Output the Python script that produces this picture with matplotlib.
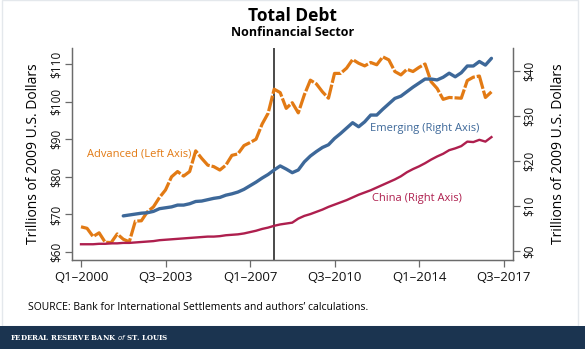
import matplotlib
matplotlib.use("Agg")
import matplotlib.pyplot as plt
from matplotlib.patches import Rectangle

plt.rcParams['font.family'] = ['Open Sans', 'DejaVu Sans']

# quarters since Q1-2000
quarters = list(range(69))
tick_pos = [0, 14, 28, 42, 56, 70]
tick_labels = ['Q1\u20132000', 'Q3\u20132003', 'Q1\u20132007', 'Q3\u20132010', 'Q1\u20132014', 'Q3\u20132017']

# Advanced economies, left axis (trillions of 2009 US$)
advanced = [66.7, 66.3, 64.1, 65.1, 62.6, 62.5, 64.8, 63.4, 62.7, 68.2,
            68.3, 70.7, 72.0, 74.5, 76.5, 80.0, 81.4, 80.2, 81.4, 86.9,
            84.9, 83.1, 82.7, 81.8, 83.1, 85.7, 86.1, 88.3, 89.1, 90.0,
            94.0, 96.9, 103.3, 102.4, 98.2, 99.7, 97.0, 101.8, 105.7, 104.7,
            102.6, 100.9, 107.5, 107.5, 108.9, 111.2, 110.2, 109.5, 110.4, 109.8,
            111.9, 111.1, 108.0, 107.1, 108.6, 108.0, 109.1, 110.0, 105.3, 103.5,
            100.6, 101.1, 101.0, 100.9, 105.6, 106.5, 106.8, 101.1, 102.6]

# Emerging economies, right axis (starts Q4-2001)
emerging_q = list(range(7, 69))
emerging = [7.8, 8.0, 8.2, 8.4, 8.5, 8.8, 9.4, 9.6, 9.8, 10.2,
            10.2, 10.5, 11.0, 11.1, 11.4, 11.7, 11.9, 12.4, 12.7, 13.1,
            13.7, 14.5, 15.3, 16.2, 17.0, 18.0, 18.9, 18.2, 17.4, 18.0,
            19.8, 21.1, 22.1, 23.0, 23.6, 25.0, 26.1, 27.3, 28.5, 27.6,
            28.7, 30.2, 30.2, 31.5, 32.7, 33.9, 34.4, 35.4, 36.4, 37.3,
            38.2, 38.2, 38.0, 38.6, 39.5, 38.7, 39.6, 41.1, 41.1, 42.1,
            41.3, 42.8]

# China, right axis
china = [1.5, 1.5, 1.5, 1.6, 1.6, 1.7, 1.7, 1.8, 1.8, 1.9,
         2.0, 2.1, 2.2, 2.4, 2.5, 2.6, 2.7, 2.8, 2.9, 3.0,
         3.1, 3.2, 3.2, 3.3, 3.5, 3.6, 3.7, 3.9, 4.2, 4.5,
         4.9, 5.2, 5.6, 5.9, 6.1, 6.3, 7.2, 7.8, 8.2, 8.7,
         9.2, 9.8, 10.3, 10.8, 11.3, 11.9, 12.5, 13.0, 13.5, 14.1,
         14.7, 15.3, 15.9, 16.6, 17.5, 18.2, 18.8, 19.5, 20.3, 21.0,
         21.6, 22.4, 22.8, 23.3, 24.3, 24.2, 24.7, 24.3, 25.3]

crisis_q = 32
left_ticks = [60, 70, 80, 90, 100, 110]
right_ticks = [0, 10, 20, 30, 40]

c_adv = '#E27A14'
c_emg = '#3D6899'
c_chn = '#AE1F4E'
c_axis = '#6b6b6b'

fig = plt.figure(figsize=(5.85, 3.49), dpi=100)
ax = fig.add_axes([0.1231, 0.255, 0.7538, 0.6075])
ax2 = ax.twinx()

ax.plot(quarters, advanced, color=c_adv, lw=2.3, linestyle=(0, (5, 0.6)))
ax2.plot(emerging_q, emerging, color=c_emg, lw=2.4, solid_capstyle='round')
ax2.plot(quarters, china, color=c_chn, lw=1.7)
ax.axvline(crisis_q, color='#3a3a3a', lw=1.3, zorder=0)

ax.set_xlim(-1.49, 71.57)
ax.set_ylim(57.87, 114.26)
ax2.set_ylim(-2.0, 45.1)

ax.set_xticks(tick_pos)
ax.set_xticklabels(tick_labels)
ax.set_yticks(left_ticks)
ax.set_yticklabels(['$%d' % v for v in left_ticks], rotation=90, va='center')
ax2.set_yticks(right_ticks)
ax2.set_yticklabels(['$%d' % v for v in right_ticks], rotation=90, va='center')

for a in (ax, ax2):
    a.spines['top'].set_visible(False)
    for s in ('left', 'right', 'bottom'):
        a.spines[s].set_color(c_axis)
        a.spines[s].set_linewidth(0.9)
    a.tick_params(axis='both', colors=c_axis, labelcolor='#111111',
                  labelsize=8.5, length=5, width=0.9)
ax.tick_params(axis='x', labelsize=9.5, pad=3)
ax.tick_params(axis='y', pad=2)
ax2.tick_params(axis='y', pad=2)

ax.set_ylabel('Trillions of 2009 U.S. Dollars', fontsize=10, labelpad=6)
ax2.set_ylabel('Trillions of 2009 U.S. Dollars', fontsize=10, labelpad=11,
               rotation=90)

ax.text(0.035, 0.50, 'Advanced (Left Axis)', color=c_adv, fontsize=8,
        transform=ax.transAxes, va='center')
ax.text(0.675, 0.62, 'Emerging (Right Axis)', color=c_emg, fontsize=8,
        transform=ax.transAxes, va='center')
ax.text(0.68, 0.29, 'China (Right Axis)', color=c_chn, fontsize=8,
        transform=ax.transAxes, va='center')

fig.text(0.5, 0.955, 'Total Debt', ha='center', va='center',
         fontsize=12.5, fontweight='bold')
fig.text(0.5, 0.908, 'Nonfinancial Sector', ha='center', va='center',
         fontsize=9, fontweight='bold')
fig.text(0.048, 0.12, 'SOURCE: Bank for International Settlements and authors\u2019 calculations.',
         fontsize=7.5, va='center')

# frame and footer band
fig.patches.append(Rectangle((0.004, 0.066), 0.984, 0.934, transform=fig.transFigure,
                             fill=False, edgecolor='#e4e8ec', lw=1))
fig.patches.append(Rectangle((0, 0), 1, 0.066, transform=fig.transFigure,
                             facecolor='#1b3450', edgecolor='none'))
fig.text(0.017, 0.033, 'FEDERAL RESERVE BANK $\\it{of}$ ST. LOUIS', color='white',
         fontsize=5, family='DejaVu Serif', fontweight='bold', va='center')

fig.savefig('out.png', dpi=100)
